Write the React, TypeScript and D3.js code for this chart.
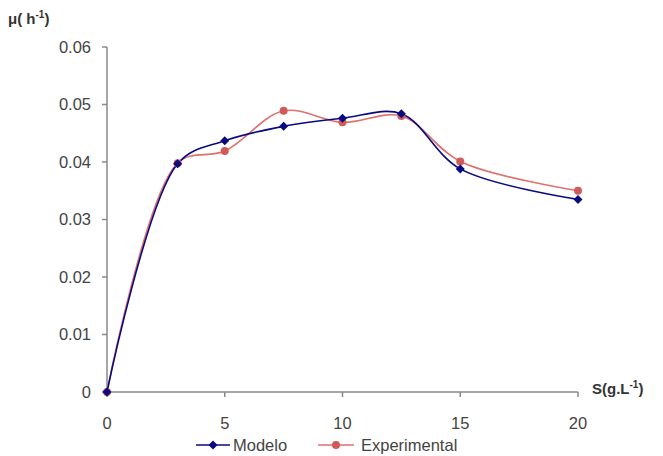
import React from "react";
import * as d3 from "d3";

const xValues = [0, 3, 5, 7.5, 10, 12.5, 15, 20];
const modelo = [0, 0.0397, 0.0437, 0.0462, 0.0476, 0.0484, 0.0388, 0.0335];
const experimental = [0, 0.0398, 0.0419, 0.0489, 0.0469, 0.048, 0.0401, 0.035];
const xTicks = [0, 5, 10, 15, 20];
const yTicks = [0, 0.01, 0.02, 0.03, 0.04, 0.05, 0.06];
const seriesNames = ["Modelo", "Experimental"];

export default function App() {
  const W = 663, H = 456;
  const x = d3.scaleLinear().domain([0, 20]).range([107, 578]);
  const y = d3.scaleLinear().domain([0, 0.06]).range([392, 47]);
  const font = "Arial, 'Liberation Sans', sans-serif";
  const line = d3
    .line<number>()
    .x((_, i) => x(xValues[i]))
    .y((d) => y(d))
    .curve(d3.curveCatmullRom.alpha(0.5));
  const blue = "#0a0a80";
  const red = "#e0706a";
  const redMark = "#d05a5a";
  const axisColor = "#8a8a8a";
  const textColor = "#444";
  const diamond = (cx: number, cy: number, r: number) =>
    `M${cx},${cy - r}L${cx + r},${cy}L${cx},${cy + r}L${cx - r},${cy}Z`;

  return (
    <svg width={W} height={H} style={{ position: "absolute", left: 0, top: 0 }}>
      <rect width={W} height={H} fill="#fff" />
      {/* axes */}
      <line x1={x(0)} x2={x(0)} y1={y(0.06)} y2={y(0)} stroke={axisColor} strokeWidth={1.5} />
      <line x1={x(0)} x2={x(20)} y1={y(0)} y2={y(0)} stroke={axisColor} strokeWidth={1.5} />
      {yTicks.map((t) => (
        <g key={"y" + t}>
          <line x1={x(0) - 5} x2={x(0)} y1={y(t)} y2={y(t)} stroke={axisColor} strokeWidth={1.5} />
          <text x={91} y={y(t)} dy="0.35em" textAnchor="end" fontFamily={font} fontSize={16.5} fill={textColor}>
            {t === 0 ? "0" : t.toFixed(2)}
          </text>
        </g>
      ))}
      {xTicks.map((t) => (
        <g key={"x" + t}>
          <line x1={x(t)} x2={x(t)} y1={y(0)} y2={y(0) + 5} stroke={axisColor} strokeWidth={1.5} />
          <text x={x(t)} y={423} dy="0.35em" textAnchor="middle" fontFamily={font} fontSize={16.5} fill={textColor}>
            {t}
          </text>
        </g>
      ))}
      {/* axis titles */}
      <text x={8} y={24} fontFamily={font} fontSize={15} fontWeight="bold" fill="#333">
        μ( h<tspan dy={-6} fontSize={10}>-1</tspan><tspan dy={6}>)</tspan>
      </text>
      <text x={592} y={394} fontFamily={font} fontSize={15} fontWeight="bold" fill="#333">
        S(g.L<tspan dy={-6} fontSize={10}>-1</tspan><tspan dy={6}>)</tspan>
      </text>
      {/* series */}
      <path d={line(experimental) || ""} fill="none" stroke={red} strokeWidth={1.6} />
      <path d={line(modelo) || ""} fill="none" stroke={blue} strokeWidth={1.6} />
      {experimental.map((v, i) => (
        <circle key={"e" + i} cx={x(xValues[i])} cy={y(v)} r={4} fill={redMark} />
      ))}
      {modelo.map((v, i) => (
        <path key={"m" + i} d={diamond(x(xValues[i]), y(v), 4.5)} fill={blue} />
      ))}
      {/* legend */}
      <g>
        <line x1={196} x2={230} y1={445} y2={445} stroke={blue} strokeWidth={1.6} />
        <path d={diamond(213, 445, 4.5)} fill={blue} />
        <text x={233} y={445} dy="0.35em" fontFamily={font} fontSize={16.5} fill={textColor}>
          {seriesNames[0]}
        </text>
        <line x1={318} x2={354} y1={445} y2={445} stroke={red} strokeWidth={1.6} />
        <circle cx={336} cy={445} r={4} fill={redMark} />
        <text x={361} y={445} dy="0.35em" fontFamily={font} fontSize={16.5} fill={textColor}>
          {seriesNames[1]}
        </text>
      </g>
    </svg>
  );
}
